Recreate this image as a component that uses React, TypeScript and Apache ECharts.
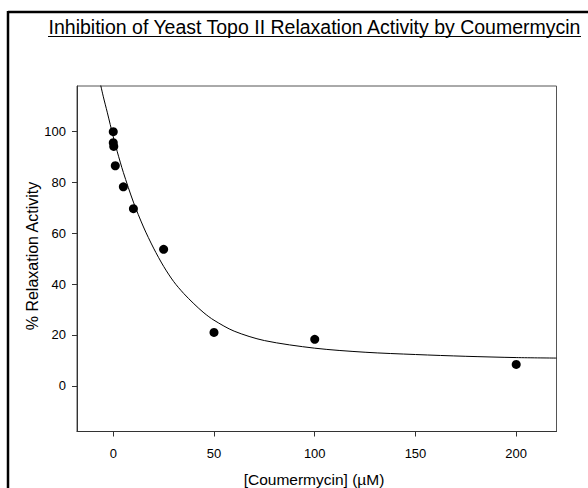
import React, { useEffect, useRef } from "react";
import * as echarts from "echarts";

const titleText = "Inhibition of Yeast Topo II Relaxation Activity by Coumermycin";
const xAxisTitle = "[Coumermycin] (\u00b5M)";
const yAxisTitle = "% Relaxation Activity";

const xTicks = [0, 50, 100, 150, 200];
const yTicks = [0, 20, 40, 60, 80, 100];

// measured data points
const pointX = [0, 0, 0.25, 1, 5, 10, 25, 50, 100, 200];
const pointY = [100, 95.7, 94.2, 86.6, 78.3, 69.7, 53.7, 21.0, 18.3, 8.4];

// fitted curve
const curveX = [-7, -5, -3, 0, 2, 5, 10, 15, 20, 25, 30, 35, 40, 45, 50, 60, 75, 100, 125, 150, 175, 200, 220];
const curveY = [121, 114, 107.7, 98, 92.1, 84, 72.3, 62.5, 54.2, 47, 41, 36.3, 32.3, 28.7, 25.8, 21.5, 17.8, 14.8, 13.2, 12.3, 11.6, 11.1, 10.9];

export default function App() {
  const ref = useRef<HTMLDivElement>(null);
  useEffect(() => {
    if (!ref.current) return;
    const chart = echarts.init(ref.current, undefined, { renderer: "svg" });
    const font = "Arial, 'Liberation Sans', sans-serif";
    chart.setOption({
      animation: false,
      backgroundColor: "#ffffff",
      grid: {
        left: 77,
        top: 86,
        right: 31.5,
        bottom: 56.5,
        show: true,
        borderColor: "#555",
        borderWidth: 1,
        backgroundColor: "transparent",
      },
      xAxis: {
        type: "value",
        min: -18,
        max: 220,
        splitLine: { show: false },
        axisLine: { show: true, onZero: false, lineStyle: { color: "#333", width: 1 } },
        axisTick: { show: true, length: 5, lineStyle: { color: "#333" }, customValues: xTicks },
        axisLabel: {
          customValues: xTicks,
          margin: 15,
          color: "#000",
          fontSize: 13,
          fontFamily: font,
        },
      },
      yAxis: {
        type: "value",
        min: -18,
        max: 118,
        splitLine: { show: false },
        axisLine: { show: true, onZero: false, lineStyle: { color: "#333", width: 1 } },
        axisTick: { show: true, length: 5, lineStyle: { color: "#333" }, customValues: yTicks },
        axisLabel: {
          customValues: yTicks,
          margin: 11,
          color: "#000",
          fontSize: 13,
          fontFamily: font,
        },
      },
      series: [
        {
          type: "line",
          data: curveX.map((x, i) => [x, curveY[i]]),
          smooth: 0.3,
          showSymbol: false,
          clip: true,
          lineStyle: { color: "#000", width: 1 },
          z: 2,
        },
        {
          type: "scatter",
          data: pointX.map((x, i) => [x, pointY[i]]),
          symbol: "circle",
          symbolSize: 9,
          itemStyle: { color: "#000", opacity: 1 },
          z: 3,
        },
      ],
      graphic: [
        {
          type: "line",
          shape: { x1: 8, y1: 12, x2: 588, y2: 12 },
          style: { stroke: "#000", lineWidth: 2.5 },
        },
        {
          type: "line",
          shape: { x1: 8, y1: 11, x2: 8, y2: 488 },
          style: { stroke: "#000", lineWidth: 2.5 },
        },
        {
          type: "text",
          x: 314.5,
          y: 26.5,
          style: {
            text: titleText,
            fill: "#000",
            font: `19.5px ${font}`,
            align: "center",
            verticalAlign: "middle",
          },
        },
        {
          type: "line",
          shape: { x1: 48, y1: 36.5, x2: 581, y2: 36.5 },
          style: { stroke: "#000", lineWidth: 1 },
        },
        {
          type: "text",
          x: 314,
          y: 479,
          style: {
            text: xAxisTitle,
            fill: "#000",
            font: `15.5px ${font}`,
            align: "center",
            verticalAlign: "middle",
          },
        },
        {
          type: "text",
          x: 32,
          y: 256,
          rotation: Math.PI / 2,
          style: {
            text: yAxisTitle,
            fill: "#000",
            font: `16px ${font}`,
            align: "center",
            verticalAlign: "middle",
          },
        },
      ],
    });
    return () => chart.dispose();
  }, []);
  return (
    <div
      ref={ref}
      style={{ position: "fixed", left: 0, top: 0, width: 588, height: 488 }}
    />
  );
}
